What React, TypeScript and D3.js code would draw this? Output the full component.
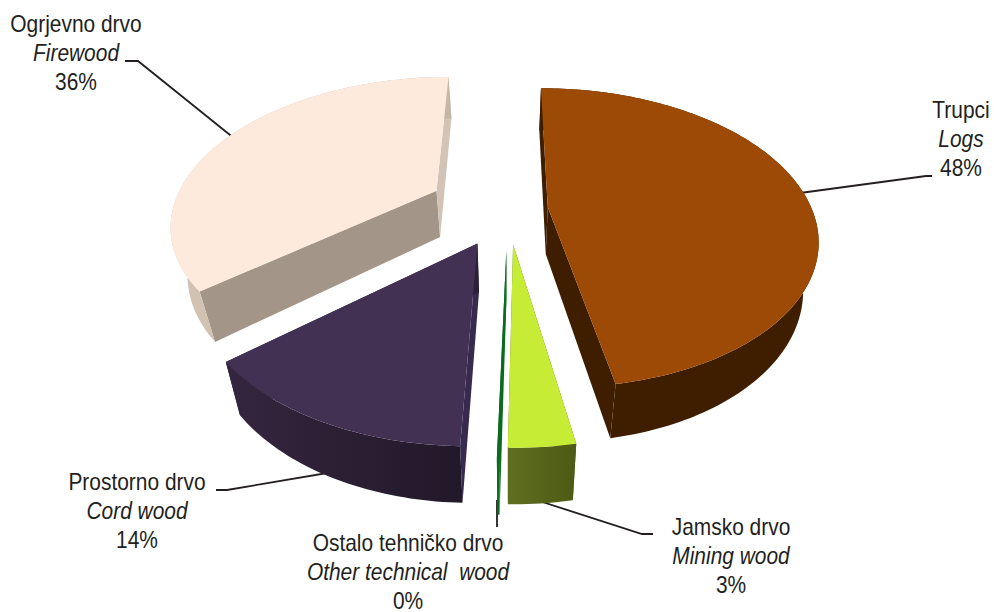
import React from "react";
import * as d3 from "d3";

const categories = ["Logs", "Mining wood", "Other technical wood", "Cord wood", "Firewood"];
const values = [47.2, 3.1, 0.1, 13.5, 36.1];
const explode = [40, 62, 72, 67, 81];
const topColors = ["#9C4A05", "#C6EC35", "#0B6B1E", "#433154", "#FEEADC"];
const rimColors = [["#3F1E00", "#3F1E00"], ["#5F6F20", "#4D5A15"], ["#0B6B1E", "#0B6B1E"], ["#35263F", "#211829"], ["#D3C3B3", "#C6B6A6"]];
const startWall = ["#3F1E00", "#4D5A15", "#0B6B1E", "#372A4F", "#A39689"];
const endWall = ["#3F1E00", "#5F6F20", "#0B6B1E", "#2C2038", "#D2C3B6"];
const drawOrder = [4, 0, 3, 2, 1];

type Label = { lines: [string, string, string]; x: number; y: number; leader: [number, number][] };
const labels: Label[] = [
  { lines: ["Ogrjevno drvo", "Firewood", "36%"], x: 76, y: 32, leader: [[125, 61], [138, 61], [235, 139]] },
  { lines: ["Trupci", "Logs", "48%"], x: 961, y: 118, leader: [[800, 193], [926, 176], [932, 176]] },
  { lines: ["Prostorno drvo", "Cord wood", "14%"], x: 137, y: 490, leader: [[216, 490], [227, 490], [345, 470]] },
  { lines: ["Ostalo tehničko drvo", "Other technical  wood", "0%"], x: 408, y: 551, leader: [[497, 500], [497, 527]] },
  { lines: ["Jamsko drvo", "Mining wood", "3%"], x: 731, y: 535, leader: [[530, 498], [642, 534], [653, 534]] },
];

const W = 994, H = 612;
const cx = 508, cy = 209, R = 264, D = 1279, K = 0.546, depth = 47, taper = 0.05;

const project = (x: number, y: number): [number, number] => {
  const s = D / (D + y);
  return [cx + x * s, cy - y * K * s];
};
const lower = ([x, y]: [number, number], wy: number): [number, number] => {
  const s = D / (D + wy);
  return [x + (cx - x) * taper, y + depth * (0.4 + 0.6 * s)];
};
const line = d3.line();

const arcs = d3.pie<number>().sort(null).value((d) => d).startAngle(0).endAngle(2 * Math.PI)(values);

const slices = arcs.map((a, i) => {
  const mid = (a.startAngle + a.endAngle) / 2;
  const ox = explode[i] * Math.sin(mid), oy = explode[i] * Math.cos(mid);
  const n = Math.max(2, Math.ceil((a.endAngle - a.startAngle) / 0.02));
  const thetas = d3.range(n + 1).map((k) => a.startAngle + ((a.endAngle - a.startAngle) * k) / n);
  const world = thetas.map((t) => [ox + R * Math.sin(t), oy + R * Math.cos(t)] as [number, number]);
  const rimTop = world.map(([x, y]) => project(x, y));
  const rimBot = world.map(([x, y], k) => lower(rimTop[k], y));
  const apexTop = project(ox, oy);
  const apexBot = lower(apexTop, oy);
  return { i, rimTop, rimBot, apexTop, apexBot };
});

export default function App() {
  return (
    <svg width={W} height={H} style={{ position: "absolute", left: 0, top: 0, background: "#fff" }}
      fontFamily="'Liberation Sans', Arial, sans-serif" fontSize={23} fill="#231F20">
      <defs>
        {rimColors.map((c, i) => (
          <linearGradient key={i} id={`rim${i}`} x1="0" x2="1" y1="0" y2="0">
            <stop offset="0" stopColor={c[0]} />
            <stop offset="1" stopColor={c[1]} />
          </linearGradient>
        ))}
      </defs>
      {labels.map((l, i) => (
        <path key={i} d={line(l.leader) ?? ""} fill="none" stroke="#231F20" strokeWidth={1.8} />
      ))}
      {drawOrder.map((idx) => {
        const s = slices[idx];
        const last = s.rimTop.length - 1;
        return (
          <g key={categories[idx]}>
            <path d={(line([s.apexTop, s.rimTop[0], s.rimBot[0], s.apexBot]) ?? "") + "Z"} fill={startWall[idx]} />
            <path d={(line([s.apexTop, s.rimTop[last], s.rimBot[last], s.apexBot]) ?? "") + "Z"} fill={endWall[idx]} />
            <path d={(line([...s.rimTop, ...[...s.rimBot].reverse()]) ?? "") + "Z"} fill={`url(#rim${idx})`} />
            <path d={(line([s.apexTop, ...s.rimTop]) ?? "") + "Z"} fill={topColors[idx]} />
          </g>
        );
      })}
      {labels.map((l, i) => (
        <g key={i} transform={`translate(${l.x},${l.y}) scale(0.91,1)`} textAnchor="middle">
          <text y={0}>{l.lines[0]}</text>
          <text y={29} fontStyle="italic" style={{ whiteSpace: "pre" }}>{l.lines[1]}</text>
          <text y={58}>{l.lines[2]}</text>
        </g>
      ))}
    </svg>
  );
}
